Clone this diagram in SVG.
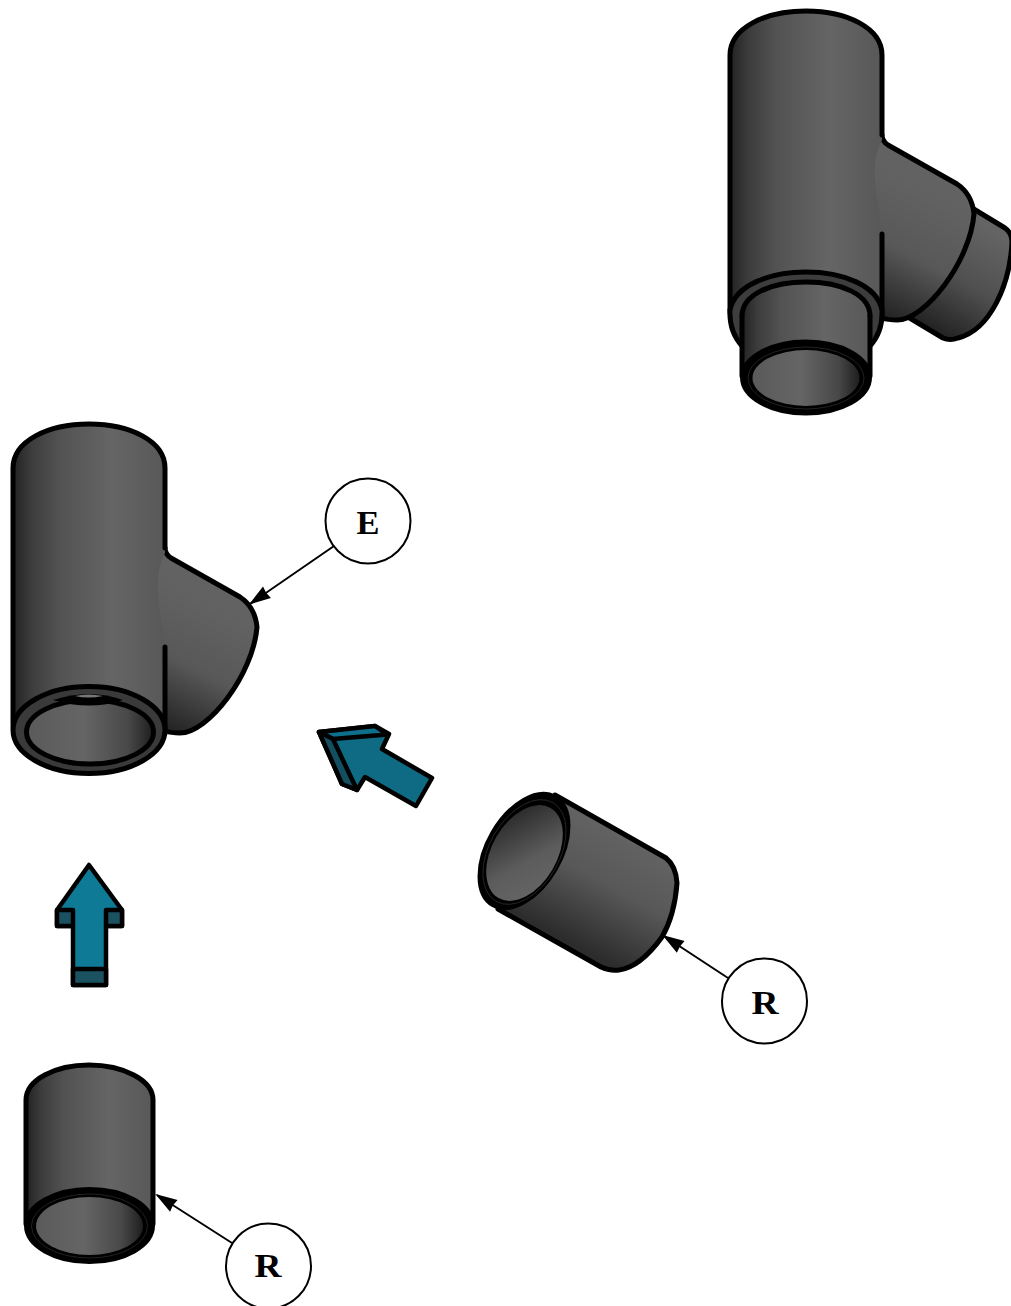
<svg xmlns="http://www.w3.org/2000/svg" width="1011" height="1306" viewBox="0 0 1011 1306">
<style>
.o{stroke:#000;stroke-width:5;stroke-linejoin:round;stroke-linecap:round}
.l{fill:none;stroke:#000;stroke-width:5;stroke-linejoin:round;stroke-linecap:round}
.k{fill:none;stroke:#000;stroke-width:2}
.c{fill:#fff;stroke:#000;stroke-width:2}
.t{font-family:"Liberation Serif",serif;font-weight:bold;font-size:34px;text-anchor:middle;fill:#000}
.a{stroke:#000;stroke-width:4.500;stroke-linejoin:round}
.body{fill:url(#gv)}
.inner{fill:url(#gi)}
.up{fill:#0f7a96}
.lt{fill:#0f6a84}
.dk{fill:#1b5261}
.hair{fill:none;stroke:#2a2a2a;stroke-width:.8}
</style>
<defs>
<linearGradient id="gv" x1="0" y1="0" x2="1" y2="0">
<stop offset="0" stop-color="#222"/><stop offset=".12" stop-color="#3c3c3c"/><stop offset=".3" stop-color="#525252"/><stop offset=".65" stop-color="#656565"/><stop offset="1" stop-color="#585858"/>
</linearGradient>
<linearGradient id="gi" x1="0" y1="0" x2="1" y2="0">
<stop offset="0" stop-color="#5a5a5a"/><stop offset=".45" stop-color="#656565"/><stop offset=".8" stop-color="#484848"/><stop offset="1" stop-color="#1e1e1e"/>
</linearGradient>
<linearGradient id="gb1" gradientUnits="userSpaceOnUse" x1="945" y1="200" x2="885" y2="315">
<stop offset="0" stop-color="#626262"/><stop offset=".5" stop-color="#585858"/><stop offset="1" stop-color="#242424"/>
</linearGradient>
<linearGradient id="gs1" gradientUnits="userSpaceOnUse" x1="1000" y1="235" x2="940" y2="335">
<stop offset="0" stop-color="#646464"/><stop offset=".5" stop-color="#505050"/><stop offset="1" stop-color="#222"/>
</linearGradient>
<linearGradient id="gb2" gradientUnits="userSpaceOnUse" x1="228" y1="613" x2="168" y2="728">
<stop offset="0" stop-color="#626262"/><stop offset=".5" stop-color="#585858"/><stop offset="1" stop-color="#242424"/>
</linearGradient>
<linearGradient id="gm" gradientUnits="userSpaceOnUse" x1="640" y1="825" x2="575" y2="945">
<stop offset="0" stop-color="#666"/><stop offset=".5" stop-color="#585858"/><stop offset="1" stop-color="#2c2c2c"/>
</linearGradient>
<linearGradient id="gmi" gradientUnits="userSpaceOnUse" x1="550" y1="810" x2="500" y2="895">
<stop offset="0" stop-color="#222"/><stop offset=".6" stop-color="#5c5c5c"/><stop offset="1" stop-color="#666"/>
</linearGradient>
<marker id="ah" markerUnits="userSpaceOnUse" viewBox="0 -8 24 16" markerWidth="24" markerHeight="16" refX="22" refY="0" orient="auto">
<path d="M24,0 L2,-7 L3,0 L2,7Z" fill="#000"/>
</marker>
</defs>

<g id="tee-assembled">
<path fill="url(#gs1)" d="M972,208 L1005,228 Q1012,233 1012,242 C1010,285 990,330 958,338 Q950,341 943,338 L908,317Z"/>
<path class="l" d="M972,208 L1005,228 Q1012,233 1012,242 C1010,285 990,330 958,338 Q950,341 943,338 L908,317"/>
<path fill="url(#gb1)" d="M860,135 H882 Q882,141 888,145 L957,184 Q972,194 974,214 C970,262 925,320 897,320 Q888,320 860,318Z"/>
<path class="l" d="M882,135 Q882,141 888,145 L957,184 Q972,194 974,214 C970,262 925,320 897,320 Q888,320 882,318"/>
<path class="body" d="M730,310 V55 C730,28 765,11 806,11 C847,11 882,28 882,55 V140 C868,165 878,200 882,234 V320 C872,345 840,350 806,350 C770,350 735,335 730,310Z"/>
<path class="l" d="M882,234 V318 M742,345 Q730,330 730,310 V55 C730,28 765,11 806,11 C847,11 882,28 882,55 V135"/>
<path class="o" fill="#3d3d3d" d="M730,310 C735,285 770,272 806,272 C842,272 877,285 882,310 Q883,332 870,346 H742 Q729,332 730,310Z"/>
<path class="body" d="M742,316 C742,295 770,282 806,282 C842,282 870,295 870,316 V376 H742Z"/>
<path class="l" d="M742,316 C742,295 770,282 806,282 C842,282 870,295 870,316"/>
<ellipse cx="806" cy="377.500" rx="63.500" ry="35.500" fill="#000" class="o"/>
<path class="l" d="M742,316 V376 M870,316 V376"/>
<ellipse cx="806" cy="378" rx="53.500" ry="28" class="inner"/>
<ellipse cx="806" cy="378" rx="58" ry="31" class="hair"/>
</g>

<g id="tee-part">
<path fill="url(#gb2)" d="M143,548 H165 Q165,554 171,558 L240,597 Q255,607 257,627 C253,675 208,733 180,733 Q171,733 143,731Z"/>
<path class="l" d="M165,548 Q165,554 171,558 L240,597 Q255,607 257,627 C253,675 208,733 180,733 Q171,733 165,731"/>
<path class="body" d="M13,723 V468 C13,441 48,424 89,424 C130,424 165,441 165,468 V553 C151,578 161,613 165,647 V735 C155,760 125,772 89,772 C50,772 18,750 13,723Z"/>
<path class="l" d="M165,647 V731 M30,757 Q13,744 13,723 V468 C13,441 48,424 89,424 C130,424 165,441 165,468 V548"/>
<ellipse cx="89" cy="730" rx="76" ry="43.500" class="o" fill="#3a3a3a"/>
<ellipse cx="90" cy="732" rx="63.500" ry="32" class="o inner"/>
<path d="M53,700 Q90,688 123,700 Q90,711 53,700Z" fill="#000"/>
<path d="M75,696 Q88,693 103,696 Q88,699 75,696Z" fill="#777"/>
</g>

<g id="arrow-up">
<path class="a up" d="M89,865 L122,910 V926 H106 V985 H73 V926 H57 V910Z"/>
<path class="a dk" d="M57,910 H73 V926 H57Z M106,910 H122 V926 H106Z M73,969 H106 V985 H73Z"/>
</g>

<g id="arrow-diagonal">
<path class="a lt" d="M319,732 L375,726 L389,734 L382,749 L432,778 L416,806 L365,777 L357,790 L342,784Z"/>
<path class="a" fill="#0e6f8a" d="M319,732 L375,726 L387,734.500 L333,739Z"/>
<path class="a" fill="#134f60" d="M319,732 L333,739 L357,790 L342,784Z"/>
</g>

<g id="coupling-middle">
<path fill="url(#gm)" d="M555,795 L666,858 Q676,866 677,883 C675,910 669,925 662,937 C649,955 634,968 619,970 Q609,971 601,967 L498,909Z"/>
<path class="l" d="M555,795 L666,858 Q676,866 677,883 C675,910 669,925 662,937 C649,955 634,968 619,970 Q609,971 601,967 L498,909"/>
<ellipse cx="524" cy="851" rx="62" ry="36" transform="rotate(-60 524 851)" fill="#000" class="o"/>
<ellipse cx="524.500" cy="853" rx="52" ry="32.500" transform="rotate(-60 524.500 853)" fill="url(#gmi)"/>
<ellipse cx="524.500" cy="852" rx="57" ry="35" transform="rotate(-60 524.500 852)" class="hair"/>
</g>

<g id="coupling-bottom">
<path class="body" d="M26,1224 V1100 C26,1080 55,1065 89,1065 C123,1065 153,1080 153,1100 V1224Z"/>
<path class="l" d="M26,1224 V1100 C26,1080 55,1065 89,1065 C123,1065 153,1080 153,1100 V1224"/>
<ellipse cx="89.500" cy="1225.500" rx="63" ry="36" fill="#000" class="o"/>
<ellipse cx="89.500" cy="1226" rx="53.500" ry="29" class="inner"/>
<ellipse cx="89.500" cy="1226" rx="58" ry="32" class="hair"/>
</g>

<g id="connectors">
<path class="k" marker-end="url(#ah)" d="M334,546 L250.500,603.500"/>
<path class="k" marker-end="url(#ah)" d="M728,978 L664,936"/>
<path class="k" marker-end="url(#ah)" d="M232,1243 L157,1195"/>
</g>

<g id="label-E"><circle class="c" cx="368" cy="521" r="42.500"/><text class="t" x="368" y="534" textLength="23" lengthAdjust="spacingAndGlyphs">E</text></g>
<g id="label-R-middle"><circle class="c" cx="764.500" cy="1001" r="42.500"/><text class="t" x="765" y="1014" textLength="27" lengthAdjust="spacingAndGlyphs">R</text></g>
<g id="label-R-bottom"><circle class="c" cx="268.500" cy="1266" r="42.500"/><text class="t" x="268" y="1277" textLength="27" lengthAdjust="spacingAndGlyphs">R</text></g>
</svg>
